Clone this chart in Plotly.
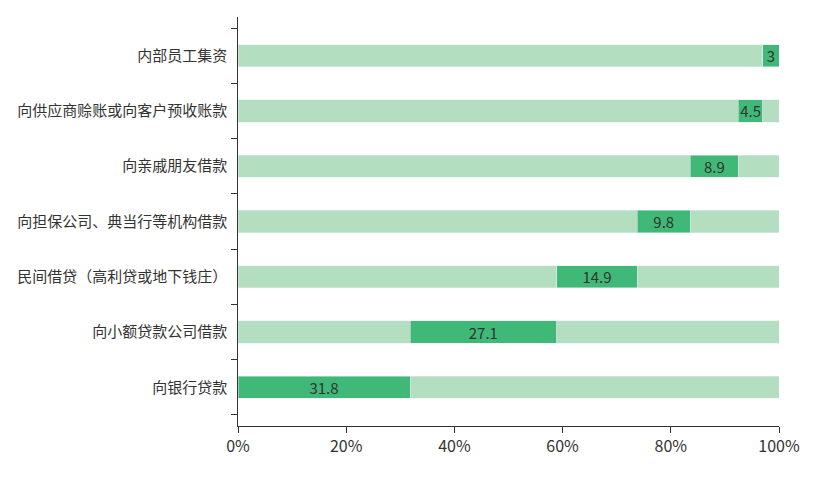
import plotly.graph_objects as go

categories = ["向银行贷款", "向小额贷款公司借款", "民间借贷（高利贷或地下钱庄）",
              "向担保公司、典当行等机构借款", "向亲戚朋友借款",
              "向供应商赊账或向客户预收账款", "内部员工集资"]
values = [31.8, 27.1, 14.9, 9.8, 8.9, 4.5, 3]
labels = ["31.8", "27.1", "14.9", "9.8", "8.9", "4.5", "3"]

before = []
s = 0
for v in values:
    before.append(s)
    s += v
after = [100 - b - v for b, v in zip(before, values)]

light = "#b3dfc0"
dark = "#40b878"
fig = go.Figure()
fig.add_bar(y=categories, x=before, orientation="h", marker_color=light, width=0.4, hoverinfo="skip")
fig.add_bar(y=categories, x=values, orientation="h", marker_color=dark, width=0.4,
            text=labels, textposition="inside", insidetextanchor="middle",
            textfont=dict(size=15, color="#333"), textangle=0, constraintext="none")
fig.add_bar(y=categories, x=after, orientation="h", marker_color=light, width=0.4, hoverinfo="skip")

fig.update_layout(
    barmode="stack", showlegend=False, width=837, height=493,
    margin=dict(l=230, r=66, t=9, b=75),
    plot_bgcolor="white", paper_bgcolor="white",
    font=dict(family="Noto Sans CJK SC", size=15, color="#333"),
    uniformtext=dict(minsize=10, mode="show"),
)
fig.update_xaxes(range=[0, 100], tickvals=[0, 20, 40, 60, 80, 100],
                 ticktext=["0%", "20%", "40%", "60%", "80%", "100%"],
                 showgrid=False, zeroline=False, showline=True, linecolor="#333",
                 ticks="outside", ticklen=6, tickcolor="#333", tickfont=dict(size=16))
fig.update_yaxes(showgrid=False, showline=True, linecolor="#333", ticks="outside",
                 tickson="boundaries", ticklen=6, tickcolor="#333", range=[-0.7, 6.7],
                 ticksuffix="  ")
fig.write_html("out.html")
